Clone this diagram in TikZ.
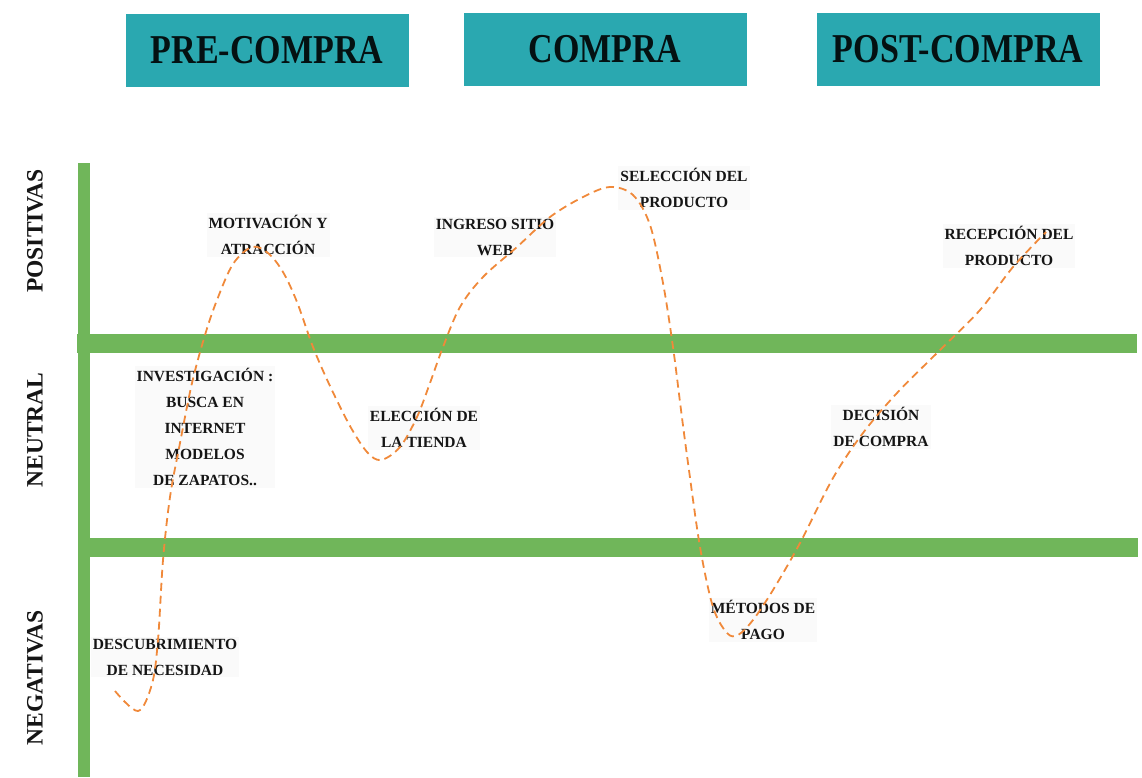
\documentclass[tikz,border=0pt]{standalone}
\usepackage{fontspec}
\setmainfont{Liberation Serif}
\definecolor{hdr}{HTML}{2AA8B0}
\definecolor{bar}{HTML}{70B65A}
\definecolor{crv}{HTML}{F0893A}
\definecolor{ink}{HTML}{151515}
\tikzset{
  hdrbox/.style={fill=hdr, draw=none, minimum width=283pt, minimum height=73pt, inner sep=0pt,
    font=\fontsize{41}{41}\selectfont\bfseries, text=black!90!hdr},
  side/.style={rotate=90, font=\fontsize{23.5}{23.5}\selectfont\bfseries, text=ink, inner sep=0pt},
  lab/.style={align=center, fill=black!2, inner sep=2pt, text=ink,
    font=\fontsize{15.5}{26}\selectfont\bfseries},
  greenbar/.style={bar, line width=19pt},
  vbar/.style={bar, line width=12pt},
  journey/.style={crv, line width=1.8pt, dash pattern=on 8pt off 5pt}
}
\begin{document}
\begin{tikzpicture}[x=1pt,y=-1pt]
\useasboundingbox (0,0) rectangle (1142,777);
% header boxes
\node[hdrbox] (pre) at (267,50) {\scalebox{0.83}[1]{PRE-COMPRA}};
\node[hdrbox] (com) at (605,49) {\scalebox{0.83}[1]{COMPRA}};
\node[hdrbox] (post) at (958,49) {\scalebox{0.83}[1]{POST-COMPRA}};
% axes
\coordinate (vt) at (84,163);
\coordinate (vb) at (84,777);
\coordinate (h1l) at (77,343);
\coordinate (h1r) at (1137,343);
\coordinate (h2l) at (84,547);
\coordinate (h2r) at (1138,547);
\draw[vbar] (vt) -- (vb);
\draw[greenbar] (h1l) -- (h1r);
\draw[greenbar] (h2l) -- (h2r);
% side labels
\node[side] (pos) at (35,231) {POSITIVAS};
\node[side] (neu) at (35,430) {NEUTRAL};
\node[side] (neg) at (35,678) {NEGATIVAS};
% labels
\node[lab] (mot) at (268,235) {MOTIVACIÓN Y\\ATRACCIÓN};
\node[lab] (ing) at (495,237) {INGRESO SITIO\\WEB};
\node[lab] (sel) at (684,188) {SELECCIÓN DEL\\PRODUCTO};
\node[lab] (rec) at (1009,246) {RECEPCIÓN DEL\\PRODUCTO};
\node[lab] (inv) at (205,427) {INVESTIGACIÓN :\\BUSCA EN\\INTERNET\\MODELOS\\DE ZAPATOS..};
\node[lab] (ele) at (424,428) {ELECCIÓN DE\\LA TIENDA};
\node[lab] (dec) at (881,427) {DECISIÓN\\DE COMPRA};
\node[lab] (met) at (763,620) {MÉTODOS DE\\PAGO};
\node[lab] (des) at (165,657) {DESCUBRIMIENTO\\DE NECESIDAD};
% journey curve
\draw[journey] plot[smooth, tension=0.55] coordinates {
 (115,691) (138,711) (152,684) (158,640) (163,560) (170,497) (180,443) (192,383)
 (205,335) (217,300) (233,264) (252,247) (268,253) (283,272) (297,302) (313,347)
 (330,386) (350,426) (367,452) (381,460) (400,447) (417,417) (430,383) (443,347)
 (460,307) (483,277) (517,247) (550,217) (583,197) (610,187) (633,195) (650,225)
 (663,283) (673,347) (681,410) (688,463) (700,547) (713,607) (727,633) (738,635)
 (753,620) (773,590) (800,543) (833,478) (863,433) (897,393) (940,350) (980,310)
 (1013,267) (1046,232)};
\end{tikzpicture}
\end{document}
